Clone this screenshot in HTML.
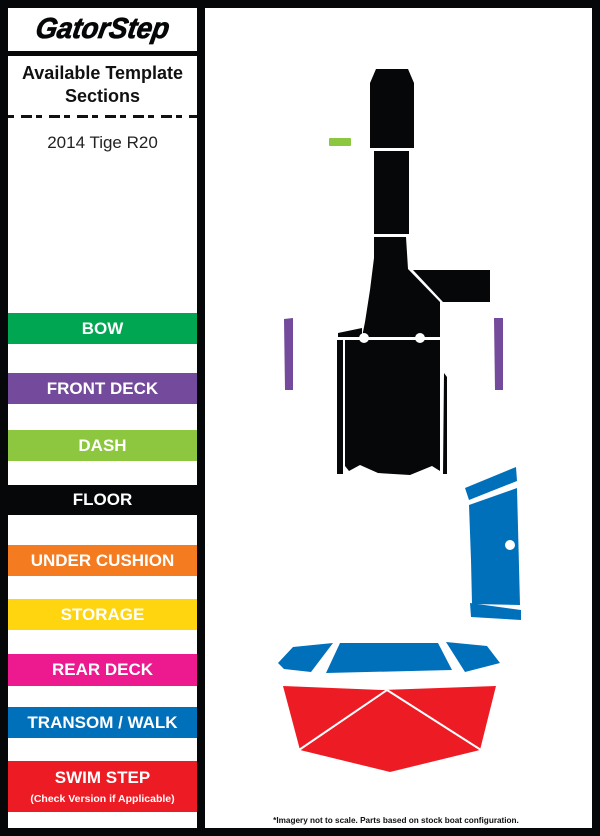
<!DOCTYPE html>
<html><head><style>
body{margin:0;width:600px;height:836px;background:#050708;position:relative;overflow:hidden;font-family:"Liberation Sans",Arial,sans-serif}
.l{position:absolute;left:8px;top:8px;width:189px;height:820px;background:#fff}
.r{position:absolute;left:205px;top:8px;width:387px;height:820px;background:#fff}
.bar{position:absolute;left:8px;width:189px;color:#fff;font-weight:bold;font-size:17px;text-align:center}
</style></head><body>
<div class="l"></div>
<div class="r"></div>
<div style="position:absolute;left:8px;top:51px;width:189px;height:5px;background:#050708"></div>
<div style="position:absolute;left:8px;top:13px;width:189px;text-align:center;font-size:29px;font-weight:900;font-style:italic;letter-spacing:0px;color:#050708;transform:scaleX(0.95) skewX(-10deg);-webkit-text-stroke:0.8px #050708">GatorStep</div>
<div style="position:absolute;left:8px;top:62px;width:189px;text-align:center;font-size:18px;font-weight:bold;line-height:23px;color:#111">Available Template<br>Sections</div>
<div style="position:absolute;left:8px;top:115px;width:189px;height:3px;background:repeating-linear-gradient(90deg,#111 0 6px,transparent 6px 13px,#111 13px 24px,transparent 24px 28px)"></div>
<div style="position:absolute;left:8px;top:133px;width:189px;text-align:center;font-size:17px;color:#222">2014 Tige R20</div>
<div class="bar" style="top:313px;height:31px;line-height:31px;background:#00a651">BOW</div>
<div class="bar" style="top:373px;height:31px;line-height:31px;background:#744a9c">FRONT DECK</div>
<div class="bar" style="top:430px;height:31px;line-height:31px;background:#8dc63f">DASH</div>
<div class="bar" style="top:485px;height:30px;line-height:30px;background:#050708">FLOOR</div>
<div class="bar" style="top:545px;height:31px;line-height:31px;background:#f47b20">UNDER CUSHION</div>
<div class="bar" style="top:599px;height:31px;line-height:31px;background:#ffd50f">STORAGE</div>
<div class="bar" style="top:654px;height:32px;line-height:32px;background:#ec1a8e">REAR DECK</div>
<div class="bar" style="top:707px;height:31px;line-height:31px;background:#0070bb">TRANSOM / WALK</div>
<div class="bar" style="top:761px;height:51px;background:#ed1c24"><div style="margin-top:7px">SWIM STEP</div><div style="font-size:10.5px;margin-top:5px">(Check Version if Applicable)</div></div>
<svg style="position:absolute;left:0;top:0" width="600" height="836">
<g fill="#050708">
<polygon points="376,69 408,69 414,83 414,148 370,148 370,83"/>
<rect x="374" y="151" width="35" height="83"/>
<polygon points="374,237 406,237 408,269 440,302 440,337 362,337 365,322 370,290 374,258"/>
<polygon points="413,270 490,270 490,302 443,302"/>
<polygon points="338,333 362,328 362,337 338,337"/>
<polygon points="337,340 343,340 343,474 337,474"/>
<polygon points="345,340 440,340 440,471 432,466 410,475 378,473 360,465 349,471 345,466"/>
<polygon points="444,373 447,377 447,474 443,474"/>
</g>
<circle cx="364" cy="338" r="5" fill="#fff"/><circle cx="420" cy="338" r="5" fill="#fff"/>
<rect x="329" y="138" width="22" height="8" rx="1" fill="#8dc63f"/>
<polygon points="284,319 293,318 293,390 285,390" fill="#744a9c"/>
<polygon points="494,318 503,318 503,390 495,390" fill="#744a9c"/>
<g fill="#0070bb">
<polygon points="465,488 516,467 517,481 469,500"/>
<polygon points="469,505 517,488 520,605 472,604 471,560"/>
<polygon points="470,603 521,610 521,620 471,617"/>
<polygon points="278,663 293,647 333,643 311,672 284,669"/>
<polygon points="340,643 438,643 452,670 326,673"/>
<polygon points="446,642 487,646 500,663 465,672"/>
</g>
<circle cx="510" cy="545" r="5" fill="#fff"/>
<polygon points="283,686 382,690 496,686 480,750 390,772 300,750" fill="#ed1c24"/>
<g stroke="#fff" stroke-width="2"><line x1="387" y1="690" x2="299" y2="750"/><line x1="387" y1="690" x2="481" y2="750"/></g>
<text x="396" y="823" text-anchor="middle" font-family="Liberation Sans" font-weight="bold" font-size="8.2" fill="#111">*Imagery not to scale. Parts based on stock boat configuration.</text>
</svg>
</body></html>
